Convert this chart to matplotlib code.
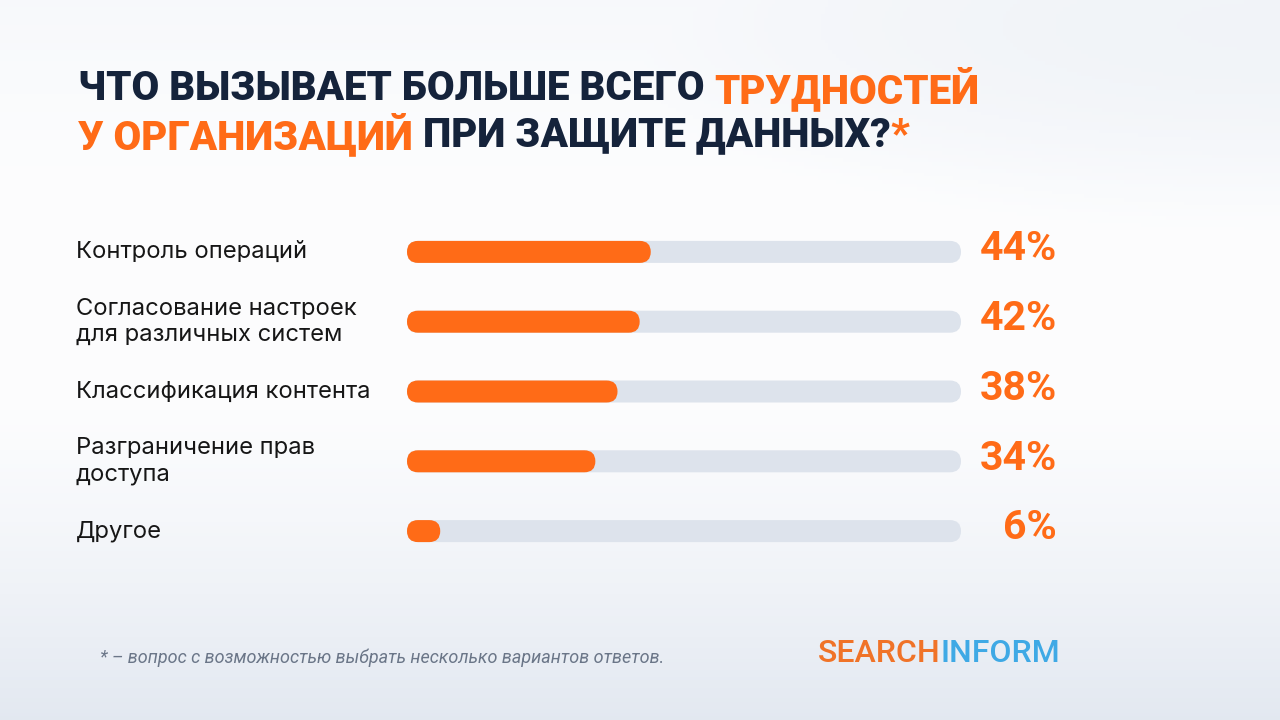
import numpy as np
import matplotlib
matplotlib.use("Agg")
import matplotlib.pyplot as plt
from matplotlib.patches import FancyBboxPatch
import matplotlib.transforms as mtransforms

# ---- data ----
categories = [
    "Контроль операций",
    "Согласование настроек\nдля различных систем",
    "Классификация контента",
    "Разграничение прав\nдоступа",
    "Другое",
]
values = [44, 42, 38, 34, 6]
value_labels = ["44%", "42%", "38%", "34%", "6%"]
title_line1 = [("ЧТО ВЫЗЫВАЕТ БОЛЬШЕ ВСЕГО ", "navy"), ("ТРУДНОСТЕЙ", "orange")]
title_line2 = [("У ОРГАНИЗАЦИЙ", "orange"), (" ПРИ ЗАЩИТЕ ДАННЫХ?", "navy"), ("*", "orange")]
footnote = "* – вопрос с возможностью выбрать несколько вариантов ответов."
logo_parts = [("SEARCH", "logoorange"), ("INFORM", "blue")]

NAVY = "#15233b"
ORANGE = "#ff6b17"
TRACK = "#dde3ec"
BLUE = "#3fa9e5"
cmap = {"navy": NAVY, "orange": ORANGE, "blue": BLUE, "logoorange": "#f07328"}

W, H = 1280, 720
fig = plt.figure(figsize=(12.8, 7.2), dpi=100)

# ---- background gradient ----
bg = fig.add_axes([0, 0, 1, 1])
bg.set_axis_off()
yy, xx = np.mgrid[0:1:200j, 0:1:360j]
white = np.array([0.99, 0.992, 0.996])
bottom = np.array([0.89, 0.912, 0.945])
t = np.clip((yy - 0.55) / 0.45, 0, 1) ** 1.3
base = white[None, None, :] * (1 - t[..., None]) + bottom[None, None, :] * t[..., None]
shade = np.clip(1 - ((xx - 1.0) ** 2 / 0.25 + (yy - 0.1) ** 2 / 0.05), 0, 1) * 0.03
base = base - shade[..., None] * np.array([1, 0.8, 0.5])
top_shade = np.clip(1 - yy / 0.25, 0, 1) * 0.02
base = base - top_shade[..., None] * np.array([1, 0.8, 0.5])
bg.imshow(np.clip(base, 0, 1), extent=[0, 1, 0, 1], aspect="auto", origin="upper")
bg.set_xlim(0, 1); bg.set_ylim(0, 1)

# ---- bars axes ----
x0, x1 = 407, 961
ytop, ybot = 217, 566
ax = fig.add_axes([x0 / W, 1 - ybot / H, (x1 - x0) / W, (ybot - ytop) / H])
ax.set_axis_off()
ax.patch.set_alpha(0)
n = len(categories)
ypos = np.arange(n)
ax.set_xlim(0, 100)
ax.set_ylim(n - 0.5, -0.5)

bar_h_px = 22
pxx = (x1 - x0) / 100.0
pxy = (ybot - ytop) / n
bh = bar_h_px / pxy
r = (bar_h_px / 2) / pxx
aspect = pxx / pxy

track = ax.barh(ypos, [100] * n, height=bh, color=TRACK)
bars = ax.barh(ypos, values, height=bh, color=ORANGE)
for container, col in ((track, TRACK), (bars, ORANGE)):
    for p in container.patches:
        p.set_visible(False)
        fb = FancyBboxPatch((p.get_x(), p.get_y()), p.get_width(), p.get_height(),
                            boxstyle=f"round,pad=0,rounding_size={r}",
                            mutation_aspect=aspect, facecolor=col, edgecolor="none")
        ax.add_patch(fb)

lab_tr = mtransforms.blended_transform_factory(fig.transFigure, ax.transData)
for i, (c, vl) in enumerate(zip(categories, value_labels)):
    fig.text(76 / W, i, c, transform=lab_tr, ha="left", va="center",
             fontsize=17.1, family="Inter", color="#161616", linespacing=1.25)
    fig.text(1057 / W, i - 0.04, vl, transform=lab_tr, ha="right", va="center",
             fontsize=29.5, family="Roboto", fontweight="bold", color=ORANGE)

# ---- title with mixed colors ----
renderer = fig.canvas.get_renderer()

def place_parts(parts, x_px, y_px, **kw):
    x = x_px
    for txt, col in parts:
        tt = fig.text(x / W, 1 - y_px / H, txt, color=cmap[col], ha="left",
                      va="center", **kw)
        bb = tt.get_window_extent(renderer=renderer)
        x += bb.width
    return x

tkw = dict(fontsize=29, family="Roboto", fontweight="black")
place_parts(title_line1, 78, 89, **tkw)
place_parts(title_line2, 78, 135, **tkw)

# ---- footnote ----
fig.text(100 / W, 1 - 658 / H, footnote, ha="left", va="center", fontsize=13,
         family="Roboto", style="italic", color="#6b7688")

# ---- logo ----
place_parts(logo_parts, 818, 654, fontsize=23, family="Roboto", fontweight="medium")

fig.savefig("out.png", dpi=100)
